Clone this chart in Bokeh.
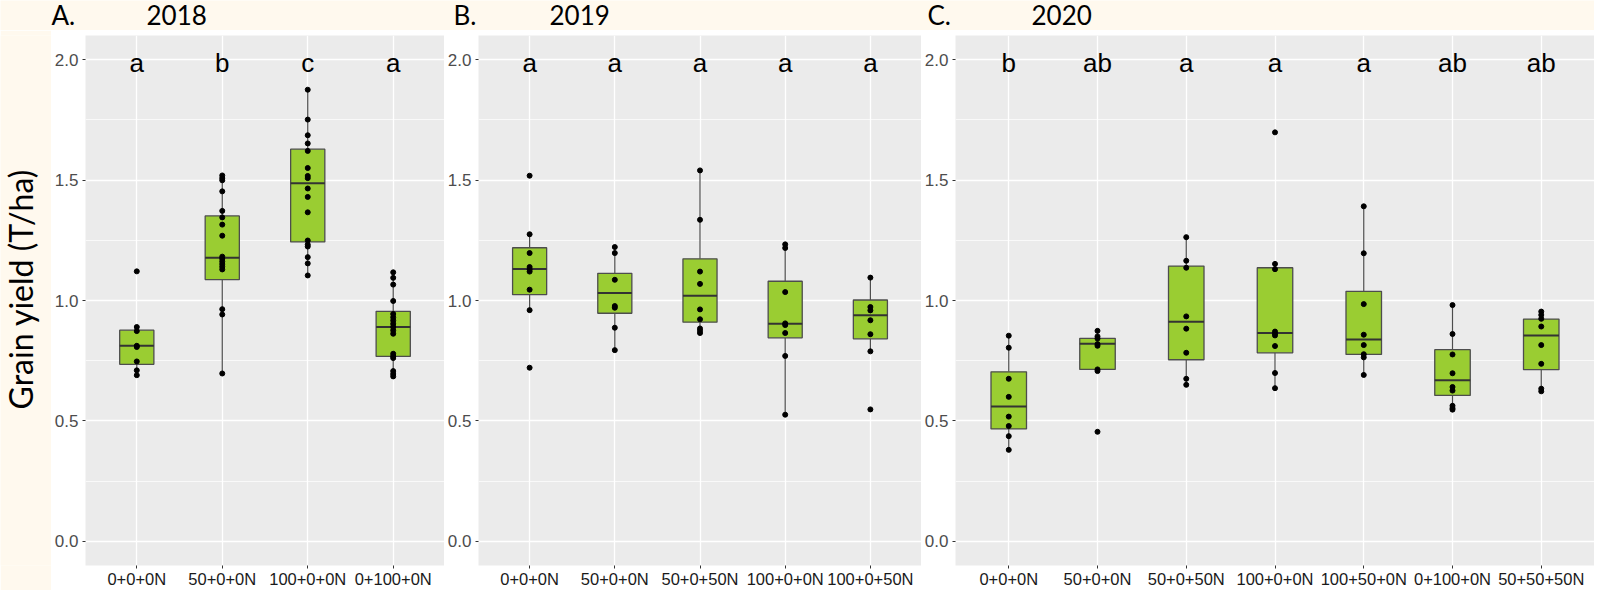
import math
from bokeh.plotting import figure
from bokeh.models import Range1d, FixedTicker, PrintfTickFormatter
from bokeh.layouts import row, column
from bokeh.embed import file_html
from bokeh.resources import INLINE
from bokeh.core.properties import value

# ---------------- data ----------------
years = ["2018", "2019", "2020"]
panel_tags = ["A.", "B.", "C."]
y_label = "Grain yield (T/ha)"
y_ticks = [0.0, 0.5, 1.0, 1.5, 2.0]
y_minor = [0.25, 0.75, 1.25, 1.75]

cats_A = ["0+0+0N", "50+0+0N", "100+0+0N", "0+100+0N"]
letters_A = ["a", "b", "c", "a"]
q1_A = [0.735, 1.087, 1.243, 0.768]
med_A = [0.812, 1.177, 1.487, 0.890]
q3_A = [0.877, 1.351, 1.628, 0.955]
wlo_A = [0.690, 0.697, 1.104, 0.685]
whi_A = [0.890, 1.519, 1.875, 1.117]
pts_A = [
    [1.121, 0.890, 0.873, 0.812, 0.807, 0.747, 0.710, 0.690],
    [1.519, 1.508, 1.499, 1.453, 1.372, 1.345, 1.315, 1.269, 1.182, 1.173,
     1.162, 1.151, 1.140, 1.129, 0.964, 0.942, 0.697],
    [1.875, 1.751, 1.686, 1.652, 1.621, 1.550, 1.517, 1.508, 1.465, 1.430,
     1.366, 1.249, 1.232, 1.224, 1.180, 1.154, 1.104],
    [1.117, 1.094, 1.066, 0.998, 0.944, 0.930, 0.917, 0.903, 0.890, 0.876,
     0.862, 0.779, 0.769, 0.761, 0.707, 0.695, 0.685],
]

cats_B = ["0+0+0N", "50+0+0N", "50+0+50N", "100+0+0N", "100+0+50N"]
letters_B = ["a", "a", "a", "a", "a"]
q1_B = [1.024, 0.947, 0.910, 0.845, 0.841]
med_B = [1.131, 1.031, 1.020, 0.903, 0.939]
q3_B = [1.219, 1.113, 1.173, 1.080, 1.002]
wlo_B = [0.960, 0.794, 0.865, 0.526, 0.789]
whi_B = [1.275, 1.222, 1.540, 1.233, 1.095]
pts_B = [
    [1.518, 1.275, 1.197, 1.139, 1.129, 1.120, 1.045, 0.960, 0.721],
    [1.222, 1.197, 1.086, 0.977, 0.970, 0.887, 0.794],
    [1.540, 1.335, 1.120, 1.069, 0.963, 0.922, 0.884, 0.875, 0.865],
    [1.233, 1.218, 1.035, 0.905, 0.898, 0.865, 0.770, 0.526],
    [1.095, 0.973, 0.959, 0.918, 0.860, 0.789, 0.548],
]

cats_C = ["0+0+0N", "50+0+0N", "50+0+50N", "100+0+0N", "100+50+0N", "0+100+0N", "50+50+50N"]
letters_C = ["b", "ab", "a", "a", "a", "ab", "ab"]
q1_C = [0.467, 0.714, 0.754, 0.783, 0.776, 0.606, 0.713]
med_C = [0.560, 0.820, 0.912, 0.865, 0.838, 0.669, 0.855]
q3_C = [0.704, 0.843, 1.143, 1.136, 1.038, 0.796, 0.923]
wlo_C = [0.380, 0.707, 0.650, 0.636, 0.691, 0.547, 0.623]
whi_C = [0.854, 0.874, 1.263, 1.152, 1.391, 0.981, 0.954]
pts_C = [
    [0.854, 0.804, 0.675, 0.600, 0.518, 0.479, 0.437, 0.380],
    [0.874, 0.851, 0.842, 0.819, 0.812, 0.714, 0.707, 0.455],
    [1.263, 1.165, 1.136, 0.934, 0.883, 0.783, 0.675, 0.650],
    [1.698, 1.152, 1.130, 0.871, 0.862, 0.855, 0.811, 0.699, 0.636],
    [1.391, 1.196, 0.985, 0.858, 0.815, 0.777, 0.764, 0.691],
    [0.981, 0.861, 0.776, 0.698, 0.641, 0.626, 0.563, 0.553, 0.547],
    [0.954, 0.940, 0.924, 0.892, 0.815, 0.737, 0.634, 0.623],
]

# ---------------- styling ----------------
CREAM = "#FFF9EE"
PANEL = "#EBEBEB"
BOX_FILL = "#9ACD32"
BOX_LINE = "#4D4D4D"
BOX_W = 0.4
TOP_H = 30
ROW_H = 560
TOTAL_W = 1594


def panel(cats, letters, q1, med, q3, wlo, whi, pts, width, left, top, bottom):
    n = len(cats)
    xs = list(range(1, n + 1))
    p = figure(width=width, height=ROW_H, output_backend="svg", toolbar_location=None,
               x_range=Range1d(0.4, n + 0.6), y_range=Range1d(-0.1, 2.1),
               min_border_left=left, min_border_right=0,
               min_border_top=top, min_border_bottom=bottom)
    p.background_fill_color = PANEL
    p.border_fill_color = "white"
    p.outline_line_color = None

    p.xaxis.ticker = FixedTicker(ticks=xs)
    p.xaxis.major_label_overrides = {x: c for x, c in zip(xs, cats)}
    p.yaxis.ticker = FixedTicker(ticks=y_ticks, minor_ticks=y_minor)
    p.yaxis.formatter = PrintfTickFormatter(format="%.1f")

    p.axis.axis_line_color = None
    p.axis.major_tick_line_color = "#333333"
    p.axis.major_tick_out = 3
    p.axis.major_tick_in = 0
    p.axis.minor_tick_line_color = None
    p.yaxis.major_label_text_font = "Liberation Sans"
    p.yaxis.major_label_text_font_size = "17px"
    p.yaxis.major_label_text_color = "#4D4D4D"
    p.yaxis.major_label_standoff = 3
    p.xaxis.major_label_text_font = "Liberation Sans"
    p.xaxis.major_label_text_font_size = "16.5px"
    p.xaxis.major_label_text_color = "#1A1A1A"
    p.xaxis.major_label_standoff = 1

    p.xgrid.grid_line_color = "white"
    p.xgrid.grid_line_width = 1.3
    p.ygrid.grid_line_color = "white"
    p.ygrid.grid_line_width = 1.3
    p.ygrid.minor_grid_line_color = "white"
    p.ygrid.minor_grid_line_width = 0.7

    # whiskers
    p.segment(x0=xs, y0=q3, x1=xs, y1=whi, line_color=BOX_LINE, line_width=1.2)
    p.segment(x0=xs, y0=q1, x1=xs, y1=wlo, line_color=BOX_LINE, line_width=1.2)
    # boxes
    p.vbar(x=xs, width=BOX_W, bottom=q1, top=q3, fill_color=BOX_FILL,
           line_color=BOX_LINE, line_width=1.3)
    # medians
    p.segment(x0=[x - BOX_W / 2 for x in xs], y0=med, x1=[x + BOX_W / 2 for x in xs], y1=med,
              line_color="#333333", line_width=2)
    # points
    px, py = [], []
    for x, vals in zip(xs, pts):
        px += [x] * len(vals)
        py += vals
    p.scatter(px, py, size=5, color="black")
    # significance letters
    p.text(x=xs, y=[y_ticks[-1]] * n, text=letters, text_font=value("Liberation Sans"),
           text_font_size="26px", text_align="center", text_baseline="alphabetic",
           y_offset=3, text_color="black")
    return p


pA = panel(cats_A, letters_A, q1_A, med_A, q3_A, wlo_A, whi_A, pts_A, 393, 31, 5, 22)
pB = panel(cats_B, letters_B, q1_B, med_B, q3_B, wlo_B, whi_B, pts_B, 477, 32, 5, 24)
pC = panel(cats_C, letters_C, q1_C, med_C, q3_C, wlo_C, whi_C, pts_C, 673, 30, 4, 22)

# top strip with panel titles
top = figure(width=TOTAL_W, height=TOP_H, output_backend="svg", toolbar_location=None,
             x_range=Range1d(0, TOTAL_W), y_range=Range1d(0, TOP_H), min_border=0,
             x_axis_location=None, y_axis_location=None)
top.background_fill_color = CREAM
top.border_fill_color = CREAM
top.outline_line_color = None
top.grid.visible = False
tag_x = [51, 453, 927]
year_x = [146, 549, 1031]
top.text(x=tag_x + year_x, y=[15.5] * 6, text=panel_tags + years,
         text_font=value("Lato"), text_font_size="26px", text_color="black",
         text_align="left", text_baseline="alphabetic")

# left strip with y-axis title
left = figure(width=51, height=ROW_H, output_backend="svg", toolbar_location=None,
              x_range=Range1d(0, 51), y_range=Range1d(0, ROW_H), min_border=0,
              x_axis_location=None, y_axis_location=None)
left.background_fill_color = CREAM
left.border_fill_color = CREAM
left.outline_line_color = None
left.grid.visible = False
left.text(x=[20], y=[292], text=[y_label], angle=math.pi / 2,
          text_font=value("Lato"), text_font_size="32px", text_color="black",
          text_align="center", text_baseline="alphabetic")

layout = column(top, row(left, pA, pB, pC))

open("out.html", "w").write(file_html(layout, INLINE))
